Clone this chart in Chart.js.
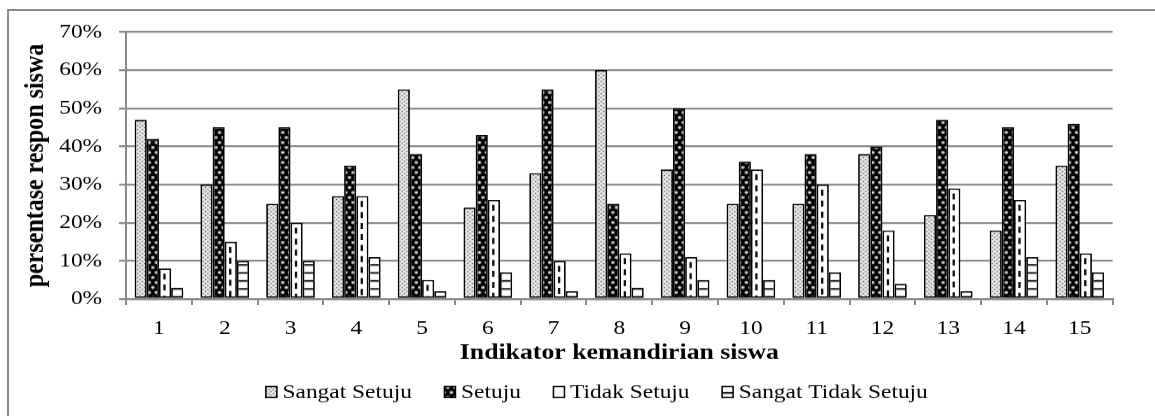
<!DOCTYPE html>
<html>
<head>
<meta charset="utf-8">
<script src="https://cdn.jsdelivr.net/npm/chart.js@4/dist/chart.umd.min.js"></script>
<style>
  body { margin: 0; background: #fff; }
  #bingkai { position: absolute; left: 7px; top: 9px; width: 1200px; height: 500px;
             border-top: 2px solid #8a8a8a; border-left: 2px solid #8a8a8a; }
  #grafik { position: absolute; left: 0; top: 0; }
</style>
</head>
<body>
<div id="bingkai"></div>
<!-- ukuran tampil ditulis inline supaya Chart.js tidak menimpanya -->
<canvas id="grafik" width="987" height="416" style="width:1155px;height:416px"></canvas>
<script>
// Data (dalam persen)
const indikator = ['1', '2', '3', '4', '5', '6', '7', '8', '9', '10', '11', '12', '13', '14', '15'];
const sangatSetuju      = [47, 30, 25, 27, 55, 24, 33, 60, 34, 25, 25, 38, 22, 18, 35];
const setuju            = [42, 45, 45, 35, 38, 43, 55, 25, 50, 36, 38, 40, 47, 45, 46];
const tidakSetuju       = [ 8, 15, 20, 27,  5, 26, 10, 12, 11, 34, 30, 18, 29, 26, 12];
const sangatTidakSetuju = [ 3, 10, 10, 11,  2,  7,  2,  3,  5,  5,  7,  4,  2, 11,  7];
const nilaiY = [0, 10, 20, 30, 40, 50, 60, 70];

const FONT = "'Liberation Serif', 'Times New Roman', serif";
// gambar aslinya melebar ke samping, jadi kanvas 987 px dipajang selebar 1155 px
const LEBAR_TAMPIL = 1155.5;

function buatPola(w, h, gambar) {
  const c = document.createElement('canvas');
  c.width = w; c.height = h;
  const g = c.getContext('2d');
  gambar(g);
  return g.createPattern(c, 'repeat');
}

const polaTitikAbu = buatPola(4, 4, g => {
  g.fillStyle = '#dedede'; g.fillRect(0, 0, 4, 4);
  g.fillStyle = '#555'; g.fillRect(1, 1, 1, 1); g.fillRect(3, 3, 1, 1);
  g.fillStyle = '#fff'; g.fillRect(3, 1, 1, 1); g.fillRect(1, 3, 1, 1);
});
const polaHitam = buatPola(6, 10, g => {
  g.fillStyle = '#000'; g.fillRect(0, 0, 6, 10);
  g.fillStyle = '#e0e0e0';
  g.beginPath(); g.arc(1.5, 2.5, 1.4, 0, Math.PI * 2); g.fill();
  g.beginPath(); g.arc(4.5, 7.5, 1.4, 0, Math.PI * 2); g.fill();
});
const polaGaris = buatPola(4, 8, g => {
  g.fillStyle = '#fff'; g.fillRect(0, 0, 4, 8);
  g.fillStyle = '#000'; g.fillRect(0, 0, 4, 1.6);
});

// garis putus-putus di tengah batang "Tidak Setuju"
const garisPutus = {
  id: 'garisPutus',
  afterDatasetDraw(chart, args) {
    if (args.index !== 2) return;
    const ctx = chart.ctx;
    ctx.save();
    ctx.strokeStyle = '#111';
    ctx.lineWidth = 2;
    ctx.setLineDash([6, 5]);
    args.meta.data.forEach(bar => {
      const { x, y, base } = bar.getProps(['x', 'y', 'base'], true);
      ctx.beginPath();
      ctx.moveTo(x - 0.5, y + 5);
      ctx.lineTo(x - 0.5, base - 1);
      ctx.stroke();
    });
    ctx.restore();
  }
};

// legenda di bawah, kotak kecil rapat dengan teks
const legenda = {
  id: 'legenda',
  afterDraw(chart) {
    const ctx = chart.ctx;
    const sets = chart.data.datasets;
    const kotakW = 9.4, kotakH = 11, celah = 4.8, jarak = 27.8, y = 392;
    ctx.save();
    ctx.font = '20px ' + FONT;
    const total = sets.reduce((s, d) => s + kotakW + celah + ctx.measureText(d.label).width, 0) + jarak * (sets.length - 1);
    let x = 509.8 - total / 2;
    sets.forEach(d => {
      ctx.fillStyle = d.backgroundColor;
      ctx.fillRect(x, y - kotakH / 2, kotakW, kotakH);
      ctx.lineWidth = 1.3;
      ctx.strokeStyle = '#000';
      ctx.strokeRect(x, y - kotakH / 2, kotakW, kotakH);
      ctx.fillStyle = '#000';
      ctx.textBaseline = 'middle';
      ctx.textAlign = 'left';
      ctx.fillText(d.label, x + kotakW + celah, y + 1);
      x += kotakW + celah + ctx.measureText(d.label).width + jarak;
    });
    ctx.restore();
  }
};

new Chart(document.getElementById('grafik'), {
  type: 'bar',
  data: {
    labels: indikator,
    datasets: [
      { label: 'Sangat Setuju', data: sangatSetuju, backgroundColor: polaTitikAbu },
      { label: 'Setuju', data: setuju, backgroundColor: polaHitam },
      { label: 'Tidak Setuju', data: tidakSetuju, backgroundColor: '#fff' },
      { label: 'Sangat Tidak Setuju', data: sangatTidakSetuju, backgroundColor: polaGaris }
    ]
  },
  options: {
    responsive: false,
    animation: false,
    devicePixelRatio: LEBAR_TAMPIL / 987,
    layout: { padding: { left: 0, right: 36.6, top: 32, bottom: 46 } },
    datasets: {
      bar: { categoryPercentage: 0.74, barPercentage: 1, borderColor: '#000', borderWidth: 1.5, borderSkipped: false }
    },
    plugins: { legend: { display: false }, tooltip: { enabled: false } },
    scales: {
      x: {
        grid: { drawOnChartArea: false, color: '#8a8a8a', lineWidth: 1.7, tickLength: 6 },
        border: { color: '#8a8a8a', width: 2 },
        ticks: { color: '#000', font: { family: FONT, size: 20 }, padding: 12 },
        title: {
          display: true, text: 'Indikator kemandirian siswa', color: '#000',
          font: { family: FONT, size: 22, weight: 'bold' }, padding: { top: 0, bottom: 3.5 }
        },
        afterFit: s => { s.height = 71; }
      },
      y: {
        min: 0, max: 70,
        afterBuildTicks: s => { s.ticks = nilaiY.map(v => ({ value: v })); },
        grid: { color: '#8a8a8a', lineWidth: 2, tickLength: 6 },
        border: { color: '#8a8a8a', width: 1.7 },
        ticks: { color: '#000', font: { family: FONT, size: 20 }, padding: 14.5, callback: v => v + '%' },
        title: {
          display: true, text: 'persentase respon siswa', color: '#000',
          font: { family: FONT, size: 24, weight: 'bold' }, padding: { top: 16, bottom: 0 }
        },
        afterFit: s => { s.width = 107.7; }
      }
    }
  },
  plugins: [garisPutus, legenda]
});
</script>
</body>
</html>
